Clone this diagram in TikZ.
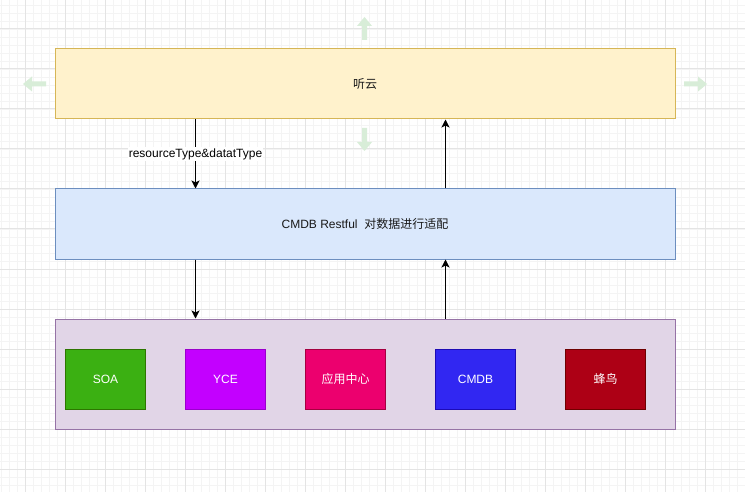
\documentclass[tikz,border=0pt]{standalone}
\usepackage{fontspec}
\setmainfont{Liberation Sans}
\newfontfamily\cjk{Noto Sans CJK SC}
\usetikzlibrary{arrows.meta}
\definecolor{gridminor}{HTML}{F4F4F4}
\definecolor{gridmajor}{HTML}{E4E4E4}
\definecolor{topfill}{HTML}{FFF2CC}
\definecolor{topline}{HTML}{D6B656}
\definecolor{midfill}{HTML}{DAE8FC}
\definecolor{midline}{HTML}{6C8EBF}
\definecolor{botfill}{HTML}{E1D5E7}
\definecolor{botline}{HTML}{9673A6}
\definecolor{soafill}{HTML}{3BB012}
\definecolor{soaline}{HTML}{2D7600}
\definecolor{ycefill}{HTML}{C300FF}
\definecolor{yceline}{HTML}{9A00CC}
\definecolor{appfill}{HTML}{EC006E}
\definecolor{appline}{HTML}{A50040}
\definecolor{cmdbfill}{HTML}{3127F2}
\definecolor{cmdbline}{HTML}{1D0BB5}
\definecolor{birdfill}{HTML}{AD0015}
\definecolor{birdline}{HTML}{6F0000}
\definecolor{hoverarrow}{HTML}{D8EDD8}
\begin{document}
\begin{tikzpicture}[x=1pt,y=-1pt,
  font=\fontsize{12}{14}\selectfont,
  layer/.style={draw=#1, line width=1pt, minimum width=620pt, minimum height=70pt, inner sep=0pt, text=black!90},
  sys/.style={line width=1pt, minimum width=80pt, minimum height=60pt, inner sep=0pt, text=white},
  conn/.style={line width=1pt, -{Stealth[length=8pt,width=8pt,inset=2pt]}},
  hover/.style={fill=hoverarrow, draw=none}
]
\useasboundingbox (0,0) rectangle (745,492);
\fill[white] (0,0) rectangle (745,492);
\begin{scope}
\clip (0,0) rectangle (745,492);
\foreach \x in {1,9,...,745} \draw[gridminor, line width=0.8pt] (\x,0) -- (\x,492);
\foreach \y in {5,13,...,492} \draw[gridminor, line width=0.8pt] (0,\y) -- (745,\y);
\foreach \x in {25,65,...,745} \draw[gridmajor, line width=1pt] (\x,0) -- (\x,492);
\foreach \y in {29,69,...,492} \draw[gridmajor, line width=1pt] (0,\y) -- (745,\y);
\end{scope}

% hover arrows
\fill[hover] (364.5,17) -- (372,26) -- (367,26) -- (367,40) -- (362,40) -- (362,26) -- (357,26) -- cycle;
\fill[hover] (364.5,151) -- (372,142) -- (367,142) -- (367,128) -- (362,128) -- (362,142) -- (357,142) -- cycle;
\fill[hover] (23,84) -- (32,76.5) -- (32,81.5) -- (46,81.5) -- (46,86.5) -- (32,86.5) -- (32,91.5) -- cycle;
\fill[hover] (707,84) -- (698,76.5) -- (698,81.5) -- (684,81.5) -- (684,86.5) -- (698,86.5) -- (698,91.5) -- cycle;

\node[layer=topline, fill=topfill] (top) at (365,84) {{\cjk 听云}};
\node[layer=midline, fill=midfill] (mid) at (365,224) {CMDB Restful\ \ {\cjk 对数据进行适配}};
\node[layer=botline, fill=botfill, minimum height=110pt] (bot) at (365,374) {};

\node[sys, fill=soafill, draw=soaline] (soa) at (105.5,379) {SOA};
\node[sys, fill=ycefill, draw=yceline] (yce) at (225.5,379) {YCE};
\node[sys, fill=appfill, draw=appline] (app) at (345.5,379) {{\cjk 应用中心}};
\node[sys, fill=cmdbfill, draw=cmdbline] (cmdb) at (475.5,379) {CMDB};
\node[sys, fill=birdfill, draw=birdline] (bird) at (605.5,379) {{\cjk 蜂鸟}};

\coordinate (down) at (195.5,0);
\coordinate (up) at (445.5,0);

\draw[conn] (top.south -| down) -- node[fill=white, inner sep=1pt, text=black] (lbl) {resourceType\&datatType} (mid.north -| down);
\draw[conn] (mid.north -| up) -- (top.south -| up);
\draw[conn] (mid.south -| down) -- (bot.north -| down);
\draw[conn] (bot.north -| up) -- (mid.south -| up);
\end{tikzpicture}
\end{document}
